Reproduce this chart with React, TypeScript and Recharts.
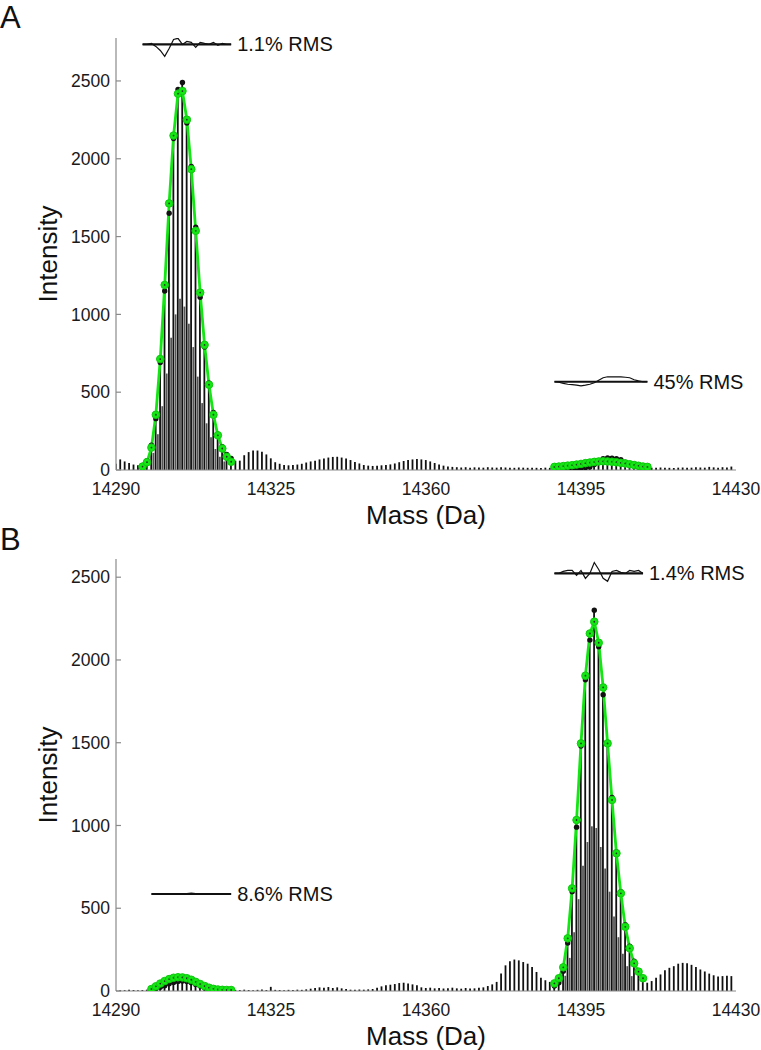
import React from 'react';
import { ComposedChart, Bar, Line, Scatter, XAxis, YAxis, Label } from 'recharts';

const MASS_START = 14290;
const X_TICKS = [14290, 14325, 14360, 14395, 14430];
const Y_TICKS = [0, 500, 1000, 1500, 2000, 2500];

// Panel A spectrum: one isotopic line per Da, 14290..14429
const spectrumA = [
  40, 68, 55, 45, 35, 30,
  30, 60, 160, 330, 690, 1150, 1650, 2130, 2445, 2490, 2230, 1950, 1560, 1110, 790, 560, 370, 230, 150, 100, 75, 60,
  60, 95, 115, 125, 125, 118, 100, 75, 50, 40, 32, 30, 32,
  35, 40, 48, 55, 60, 68, 74, 80, 84, 85, 80, 74, 64, 52, 42,
  32, 28, 26, 28, 30, 32, 36, 42, 50, 58, 64, 68, 70, 68, 64, 55, 45, 35, 28, 22,
  20, 18, 16, 18, 15, 17, 16, 15, 18, 16, 15, 17, 16, 15, 14, 16, 15, 14, 15, 14, 13, 15, 14,
  12, 10, 10, 8, 8, 10, 12, 15, 20, 35, 55, 72, 78, 76, 72, 66, 50, 35, 25, 20, 18, 16,
  15, 14, 16, 15, 14, 13, 15, 16, 14, 15, 18, 16, 15, 20, 17, 15, 18, 16, 22,
];
// lighter in-between lines (half-Da positions) in panel A
const HALF_A_START = 14298.5;
const halfA = [110, 230, 410, 620, 850, 1000, 1100, 1050, 940, 790, 600, 430, 300, 210, 135, 85, 55];

// Panel A fits (green)
const FIT_A1_START = 14296;
const fitA1 = [22, 50, 144, 355, 713, 1189, 1713, 2149, 2418, 2435, 2251, 1933, 1537, 1140, 804, 548, 355, 223, 138, 85, 53];
const FIT_A2_START = 14389;
const fitA2 = [20, 22, 25, 28, 31, 35, 39, 44, 48, 52, 55, 56, 55, 53, 50, 46, 42, 37, 32, 27, 22, 20];

// Panel A residual insets
const residA1 = [0, 0, 6, -13, -39, -77, -26, 32, 39, 0, 19, 13, -19, 13, 6, 0, 13, -6, 6, 0, 0];
const residA2 = [0, -3, -10, -16, -19, -22, -26, -22, -16, -6, 10, 26, 32, 32, 32, 32, 29, 26, 13, 6, 0, 0];
const INSET_LEVEL_A1 = 2735;
const INSET_LEVEL_A2 = 567;

// Panel B spectrum 14290..14429
const spectrumB = [
  5, 6, 5, 7, 6, 5, 6, 8,
  10, 15, 22, 32, 44, 52, 58, 60, 58, 50, 40, 30, 20, 13, 9, 7, 6, 5, 6,
  7, 6, 8, 6, 5, 7, 9, 6, 25, 7, 6, 5, 7, 6, 8, 7, 10,
  14, 18, 22, 20, 24, 18, 22, 16, 12,
  8, 7, 9, 8, 10, 12,
  20, 28, 34, 38, 42, 48, 50, 46, 40, 34,
  22, 18, 20, 16, 18, 15, 17, 20, 16, 14, 18, 15, 16, 19, 22, 30, 40,
  55, 105, 155, 180, 190, 185, 175, 165, 145, 115, 80, 65, 55,
  30, 50, 120, 290, 600, 990, 1480, 1880, 2120, 2300, 2080, 1790, 1500, 1170, 840, 600, 400, 270, 180, 120, 80,
  50, 60, 80, 100, 125, 140, 150, 165, 170, 168, 158, 145, 130, 118, 105, 95, 88, 90, 92, 90,
];
const HALF_B_START = 14391.5;
const halfB = [92, 200, 355, 555, 756, 900, 995, 985, 870, 740, 600, 450, 325, 225, 150, 90];

const FIT_B1_START = 14298;
const fitB1 = [12, 28, 45, 60, 72, 80, 83, 82, 77, 68, 55, 42, 30, 20, 13, 9, 7, 6, 6];
const FIT_B2_START = 14389;
const fitB2 = [46, 77, 143, 318, 620, 1033, 1496, 1905, 2160, 2231, 2104, 1834, 1496, 1154, 832, 590, 388, 258, 167, 117, 77];

const residB1 = [0, -3, 3, 0, -3, 0, 3, 0, 3, 6, 3, 0, -3, 0, 0, 0, 0, 0, 0];
const residB2 = [0, 0, 12, 18, 18, -12, 18, -30, 0, 66, 24, -30, -48, 12, 18, 6, 0, 18, 12, 18, 0];
const INSET_LEVEL_B1 = 586;
const INSET_LEVEL_B2 = 2523;

const FONT = '"Liberation Sans", Arial, Helvetica, sans-serif';
const AXIS_GRAY = '#8a8a8a';
const GREEN = '#14e614';

type Fit = { start: number; values: number[] };
type Inset = { start: number; level: number; resid: number[]; text: string };

const GreenDot = (props: any) => {
  const { cx, cy, index } = props;
  if (cx == null || cy == null) return <g key={`gd${index}`} />;
  return (
    <g key={`gd${index}`}>
      <circle cx={cx} cy={cy} r={3.8} fill={GREEN} stroke="#0fc80f" strokeWidth={1} />
      <circle cx={cx} cy={cy} r={0.9} fill="#243824" />
    </g>
  );
};

const BlackDot = (props: any) => {
  const { cx, cy } = props;
  if (cx == null || cy == null) return <g />;
  return <circle cx={cx} cy={cy} r={2.7} fill="#111" />;
};

function Panel(props: {
  width: number;
  height: number;
  marginTop: number;
  xAxisHeight: number;
  yMax: number;
  spectrum: number[];
  half: number[];
  halfStart: number;
  fits: Fit[];
  insets: Inset[];
}) {
  const { width, height, marginTop, xAxisHeight, yMax, spectrum, half, halfStart, fits, insets } = props;
  const rows: any[] = [];
  spectrum.forEach((v, i) => rows.push({ m: MASS_START + i, v }));
  half.forEach((g, i) => rows.push({ m: halfStart + i, g }));
  rows.sort((a, b) => a.m - b.m);

  return (
    <ComposedChart
      width={width}
      height={height}
      data={rows}
      margin={{ top: marginTop, right: 25, bottom: 0, left: 0 }}
      style={{ fontFamily: FONT }}
    >
      <XAxis
        type="number"
        dataKey="m"
        domain={[14290, 14430]}
        ticks={X_TICKS}
        allowDataOverflow
        height={xAxisHeight}
        tickSize={0}
        tickMargin={13}
        tickLine={false}
        axisLine={{ stroke: AXIS_GRAY, strokeWidth: 1.2 }}
        tick={{ fill: '#1a1a1a', fontSize: 17.5, fontFamily: FONT }}
      >
        <Label
          content={(p: any) => {
            const vb = p.viewBox || {};
            return (
              <text
                x={vb.x + vb.width / 2}
                y={vb.y + 54}
                textAnchor="middle"
                fontSize={26}
                fill="#111"
                fontFamily={FONT}
              >
                Mass (Da)
              </text>
            );
          }}
        />
      </XAxis>
      <YAxis
        type="number"
        domain={[0, yMax]}
        ticks={Y_TICKS}
        allowDataOverflow
        width={116}
        tickSize={-5}
        tickMargin={11}
        axisLine={{ stroke: AXIS_GRAY, strokeWidth: 1.2 }}
        tickLine={{ stroke: AXIS_GRAY, strokeWidth: 1.2 }}
        tick={{ fill: '#1a1a1a', fontSize: 17.5, fontFamily: FONT }}
      >
        <Label
          content={(p: any) => {
            const vb = p.viewBox || {};
            const cx = vb.x + 48;
            const cy = vb.y + vb.height / 2;
            return (
              <text
                x={cx}
                y={cy}
                transform={`rotate(-90, ${cx}, ${cy})`}
                textAnchor="middle"
                dominantBaseline="central"
                fontSize={26}
                fill="#111"
                fontFamily={FONT}
              >
                Intensity
              </text>
            );
          }}
        />
      </YAxis>

      <Bar dataKey="v" stackId="s" barSize={1.8} fill="#111" isAnimationActive={false} />
      <Bar dataKey="g" stackId="s" barSize={1.8} fill="#555" isAnimationActive={false} />

      {fits.map((f, k) => (
        <Scatter
          key={`obs${k}`}
          data={f.values.map((_, i) => ({ m: f.start + i, o: spectrum[f.start + i - MASS_START] }))}
          dataKey="o"
          shape={BlackDot}
          isAnimationActive={false}
        />
      ))}
      {fits.map((f, k) => (
        <Line
          key={`fit${k}`}
          data={f.values.map((val, i) => ({ m: f.start + i, f: val }))}
          dataKey="f"
          stroke={GREEN}
          strokeWidth={2.8}
          dot={GreenDot}
          activeDot={false}
          isAnimationActive={false}
        />
      ))}
      {insets.map((ins, k) => (
        <Line
          key={`base${k}`}
          data={ins.resid.map((_, i) => ({ m: ins.start + i, z: ins.level }))}
          dataKey="z"
          stroke="#111"
          strokeWidth={2.2}
          dot={false}
          activeDot={false}
          isAnimationActive={false}
          label={(p: any) =>
            p.index === ins.resid.length - 1 ? (
              <text
                key={`lbl${k}`}
                x={p.x + 6}
                y={p.y}
                dominantBaseline="central"
                fontSize={20}
                fill="#111"
                fontFamily={FONT}
              >
                {ins.text}
              </text>
            ) : (
              <g key={`lbl${k}-${p.index}`} />
            )
          }
        />
      ))}
      {insets.map((ins, k) => (
        <Line
          key={`res${k}`}
          data={ins.resid.map((r, i) => ({ m: ins.start + i, r: ins.level + r }))}
          dataKey="r"
          stroke="#111"
          strokeWidth={1.2}
          dot={false}
          activeDot={false}
          isAnimationActive={false}
        />
      ))}
    </ComposedChart>
  );
}

const letterStyle: React.CSSProperties = {
  position: 'absolute',
  left: 0,
  fontFamily: FONT,
  fontSize: 31,
  lineHeight: '31px',
  color: '#111',
};

export default function App() {
  return (
    <div style={{ position: 'absolute', left: 0, top: 0, width: 761, height: 1050, background: '#fff', overflow: 'hidden' }}>
      <div style={{ position: 'absolute', left: 0, top: 0 }}>
        <Panel
          width={761}
          height={530}
          marginTop={38}
          xAxisHeight={60}
          yMax={2776}
          spectrum={spectrumA}
          half={halfA}
          halfStart={HALF_A_START}
          fits={[
            { start: FIT_A1_START, values: fitA1 },
            { start: FIT_A2_START, values: fitA2 },
          ]}
          insets={[
            { start: FIT_A1_START, level: INSET_LEVEL_A1, resid: residA1, text: '1.1% RMS' },
            { start: FIT_A2_START, level: INSET_LEVEL_A2, resid: residA2, text: '45% RMS' },
          ]}
        />
      </div>
      <div style={{ position: 'absolute', left: 0, top: 530 }}>
        <Panel
          width={761}
          height={520}
          marginTop={29}
          xAxisHeight={59}
          yMax={2610}
          spectrum={spectrumB}
          half={halfB}
          halfStart={HALF_B_START}
          fits={[
            { start: FIT_B1_START, values: fitB1 },
            { start: FIT_B2_START, values: fitB2 },
          ]}
          insets={[
            { start: FIT_B1_START, level: INSET_LEVEL_B1, resid: residB1, text: '8.6% RMS' },
            { start: FIT_B2_START, level: INSET_LEVEL_B2, resid: residB2, text: '1.4% RMS' },
          ]}
        />
      </div>
      <div style={{ ...letterStyle, top: 2 }}>A</div>
      <div style={{ ...letterStyle, top: 524 }}>B</div>
    </div>
  );
}
